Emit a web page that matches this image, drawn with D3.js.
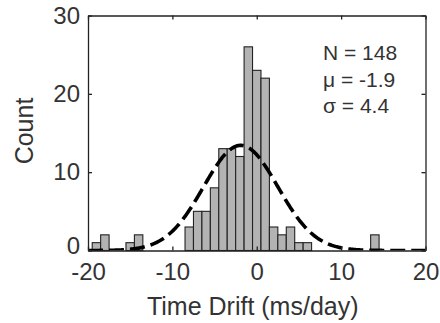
<!DOCTYPE html>
<html>
<head>
<meta charset="utf-8">
<script src="https://cdn.jsdelivr.net/npm/d3@7"></script>
<style>
  html, body { margin: 0; padding: 0; background: #fff; }
  svg { display: block; font-family: "Liberation Sans", Arial, Helvetica, sans-serif; }
</style>
</head>
<body>
<svg id="chart" width="440" height="323"></svg>
<script>
// ---- data ----
const binCenters = [-19, -18, -15, -14, -8, -7, -6, -5, -4, -3, -2, -1, 0, 1, 2, 3, 4, 5, 6, 14];
const binCounts  = [ 1,   2,   1,   2,  3,  5,  5,  8, 13, 13, 12, 26, 23, 22, 3, 2, 3, 1, 1, 2];
const binWidth = 1;
const xTicks = [-20, -10, 0, 10, 20];
const yTicks = [0, 10, 20, 30];
const statLabels = ["N = 148", "\u03bc = -1.9", "\u03c3 = 4.4"];
const fitN = 148, fitMu = -1.9, fitSigma = 4.4;

// ---- layout ----
const svg = d3.select("#chart");
const L = 88, R = 425.5, T = 15.5, B = 250.5;
const x = d3.scaleLinear().domain([-20, 20]).range([L, R]);
const y = d3.scaleLinear().domain([0, 30]).range([B, T]);
const axisColor = "#222";
const textColor = "#333";

svg.append("defs").append("clipPath").attr("id", "plotclip")
  .append("rect").attr("x", L).attr("y", T).attr("width", R - L).attr("height", B - T);

// bars
svg.append("g").selectAll("rect")
  .data(binCenters.map((c, i) => ({c, n: binCounts[i]})))
  .join("rect")
  .attr("x", d => x(d.c - binWidth / 2))
  .attr("width", d => x(d.c + binWidth / 2) - x(d.c - binWidth / 2))
  .attr("y", d => y(d.n))
  .attr("height", d => y(0) - y(d.n))
  .attr("fill", "#b3b3b3")
  .attr("stroke", "#222")
  .attr("stroke-width", 1.1);

// fitted normal curve
const xs = d3.range(-20, 20.001, 0.1);
const pdf = v => fitN * binWidth / (fitSigma * Math.sqrt(2 * Math.PI)) * Math.exp(-0.5 * Math.pow((v - fitMu) / fitSigma, 2));
svg.append("path")
  .datum(xs)
  .attr("clip-path", "url(#plotclip)")
  .attr("fill", "none")
  .attr("stroke", "#000")
  .attr("stroke-width", 3.6)
  .attr("stroke-dasharray", "15,6")
  .attr("d", d3.line().x(v => x(v)).y(v => y(pdf(v))));

// axes (box with inward ticks)
const tickLen = 4;
const gx = svg.append("g").attr("transform", `translate(0,${B})`)
  .call(d3.axisBottom(x).tickValues(xTicks).tickSizeInner(-tickLen).tickSizeOuter(0).tickPadding(12).tickFormat(d3.format("d")));
const gxt = svg.append("g").attr("transform", `translate(0,${T})`)
  .call(d3.axisTop(x).tickValues(xTicks).tickSizeInner(-tickLen).tickSizeOuter(0).tickFormat(""));
const gy = svg.append("g").attr("transform", `translate(${L},0)`)
  .call(d3.axisLeft(y).tickValues(yTicks).tickSizeInner(-tickLen).tickSizeOuter(0).tickPadding(8).tickFormat(d3.format("d")));
const gyr = svg.append("g").attr("transform", `translate(${R},0)`)
  .call(d3.axisRight(y).tickValues(yTicks).tickSizeInner(-tickLen).tickSizeOuter(0).tickFormat(""));

[gx, gxt, gy, gyr].forEach(g => {
  g.selectAll("path.domain").attr("stroke", axisColor).attr("stroke-width", 1.3);
  g.selectAll(".tick line").attr("stroke", axisColor).attr("stroke-width", 1.3);
  g.selectAll(".tick text").attr("fill", textColor).attr("font-size", 24)
    .attr("font-family", "'Liberation Sans', Arial, sans-serif");
});
gx.selectAll(".tick text").text(d => String(d));
// lift the y "0" label slightly so it clears the x labels
gy.selectAll(".tick text").attr("dy", d => d === 0 ? "0.12em" : "0.32em");

// axis labels
svg.append("text")
  .attr("x", (L + R) / 2 - 4).attr("y", 315)
  .attr("text-anchor", "middle")
  .attr("font-size", 25).attr("fill", textColor)
  .text("Time Drift (ms/day)");
svg.append("text")
  .attr("transform", `translate(33,${(T + B) / 2 - 2}) rotate(-90)`)
  .attr("text-anchor", "middle")
  .attr("font-size", 25).attr("fill", textColor)
  .text("Count");

// stats annotation
svg.append("g").selectAll("text")
  .data(statLabels)
  .join("text")
  .attr("x", 323)
  .attr("y", (d, i) => 60 + i * 26.5)
  .attr("font-size", 21).attr("fill", textColor)
  .text(d => d);
</script>
</body>
</html>
